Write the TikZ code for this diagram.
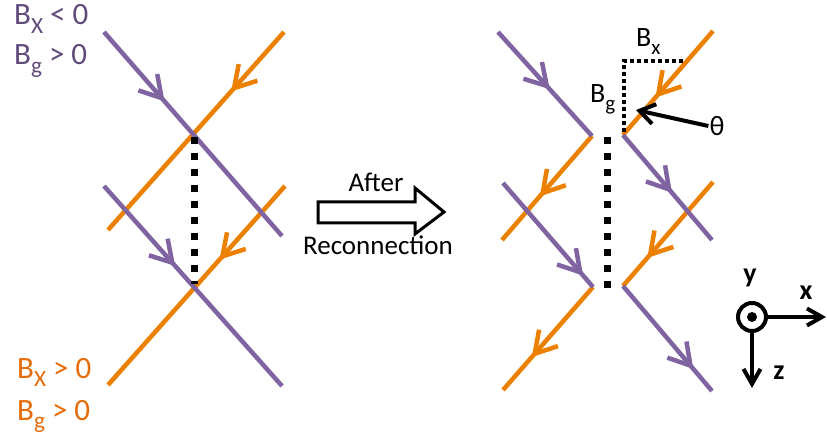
\documentclass[tikz,border=0pt]{standalone}
\usepackage{fontspec}
\setmainfont{Carlito}
\usepackage{graphicx}
\usetikzlibrary{arrows.meta,decorations.markings}
\definecolor{lpurple}{RGB}{128,100,162}
\definecolor{tpurple}{RGB}{96,74,123}
\definecolor{lorange}{RGB}{236,128,0}
\definecolor{torange}{RGB}{228,108,10}
\newcommand{\lsub}[1]{\raisebox{-0.26em}{\scalebox{0.75}{#1}}}
\begin{document}
\begin{tikzpicture}[x=1pt,y=-1pt,
  fl/.style={line width=4.5pt},
  pl/.style={fl,lpurple},
  ol/.style={fl,lorange},
  marr/.style={postaction={decorate},decoration={markings,
     mark=at position #1 with {\arrow{Straight Barb[length=21pt,width=25pt]}}}},
  lab/.style={inner sep=0pt,anchor=base west,font=\fontsize{31}{31}\selectfont},
  rlab/.style={inner sep=0pt,anchor=base west,font=\fontsize{28}{28}\selectfont},
  mtxt/.style={inner sep=0pt,anchor=base,font=\fontsize{27}{27}\selectfont},
  axl/.style={inner sep=0pt,font=\bfseries\fontsize{28}{28}\selectfont},
  bigdots/.style={line width=7pt,dash pattern=on 7pt off 9pt},
  smalldots/.style={line width=3.5pt,dash pattern=on 3.5pt off 3.5pt},
  blk/.style={line width=4pt}
]
\useasboundingbox (0,0) rectangle (827,438);

% ---------- left picture ----------
\coordinate (po1s) at (284,32);  \coordinate (po1e) at (108,230);
\coordinate (pp1s) at (104,32);  \coordinate (pp1e) at (282,236);
\coordinate (po2s) at (285,186); \coordinate (po2e) at (108,385);
\coordinate (pp2s) at (104,186); \coordinate (pp2e) at (282,386);
\draw[ol,marr=0.30] (po1s) -- (po1e);
\draw[ol,marr=0.37] (po2s) -- (po2e);
\draw[pl,marr=0.34] (pp1s) -- (pp1e);
\draw[pl,marr=0.40] (pp2s) -- (pp2e);
\coordinate (ld1) at (194,137); \coordinate (ld2) at (194,284);
\draw[bigdots] (ld1) -- (ld2);

\node[lab,text=tpurple] (l1) at (14,25) {B\lsub{X} < 0};
\node[lab,text=tpurple] (l2) at (14,65) {B\lsub{g} > 0};
\node[lab,text=torange] (l3) at (17,378) {B\lsub{X} > 0};
\node[lab,text=torange] (l4) at (17,420) {B\lsub{g} > 0};

% ---------- middle arrow ----------
\draw[line width=3pt,line join=miter] (318,202) -- (415,202) -- (415,188) -- (444,212)
  -- (415,234) -- (415,223) -- (318,223) -- cycle;
\node[mtxt] (after) at (376,192) {After};
\node[mtxt] (recon) at (378,255) {Reconnection};

% ---------- right picture ----------
\coordinate (A) at (592,136); \coordinate (B) at (623,135);
\coordinate (C) at (593,287); \coordinate (D) at (623,286);
\coordinate (r1) at (498,32);  \coordinate (r2) at (502,240);
\coordinate (r3) at (713,31);  \coordinate (r4) at (712,240);
\coordinate (r5) at (503,183); \coordinate (r6) at (503,390);
\coordinate (r7) at (713,182); \coordinate (r8) at (712,391);
\draw[ol,marr=0.58] (A) -- (r2);
\draw[ol,marr=0.64] (r3) -- (B);
\draw[ol,marr=0.68] (C) -- (r6);
\draw[ol,marr=0.73] (r7) -- (D);
\draw[pl,marr=0.55] (r1) -- (A);
\draw[pl,marr=0.55] (B) -- (r4);
\draw[pl,marr=0.89] (r5) -- (C);
\draw[pl,marr=0.79] (D) -- (r8);
\coordinate (rd1) at (607,137); \coordinate (rd2) at (607,290);
\draw[bigdots] (rd1) -- (rd2);

\coordinate (s1) at (624,132); \coordinate (s2) at (624,61); \coordinate (s3) at (686,61);
\draw[smalldots] (s1) -- (s2) -- (s3);
\node[rlab] (bx) at (636,47) {B\lsub{x}};
\node[rlab] (bg) at (590,103) {B\lsub{g}};
\node[inner sep=1pt,font=\fontsize{28}{28}\selectfont] (th) at (717,126) {θ};
\coordinate (thtip) at (636,110);
\draw[blk,-{Straight Barb[length=15pt,width=20pt]}] (th.west) -- (thtip);

% ---------- axes ----------
\node[circle,draw,line width=4pt,minimum size=28pt,inner sep=0pt] (o) at (752,317) {};
\fill (o.center) circle (5pt);
\coordinate (xe) at (826,317); \coordinate (ze) at (752,388);
\draw[blk,-{Straight Barb[length=15pt,width=17pt]}] (o.east) -- (xe);
\draw[blk,-{Straight Barb[length=15pt,width=17pt]}] (o.south) -- (ze);
\node[axl] (ly) at (750,278) {y};
\node[axl] (lx) at (806,293) {x};
\node[axl] (lz) at (779,373) {z};
\end{tikzpicture}
\end{document}
